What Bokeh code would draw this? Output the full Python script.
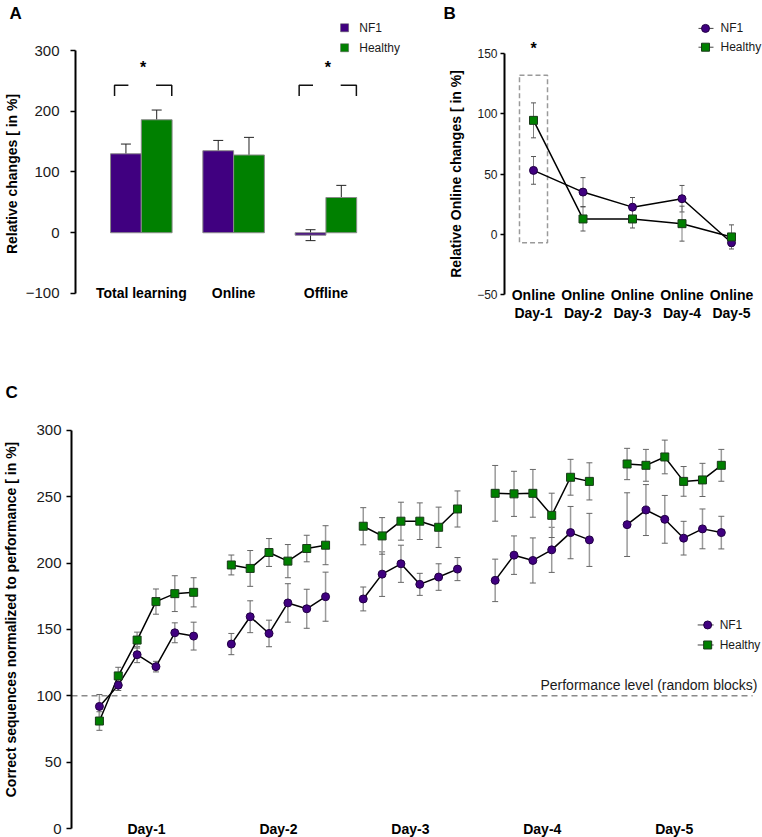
from bokeh.plotting import figure
from bokeh.layouts import column, row
from bokeh.models import Range1d, FixedTicker, Whisker, ColumnDataSource, TeeHead
from bokeh.core.properties import value
from bokeh.embed import file_html
from bokeh.resources import INLINE

NF1_COLOR = "#400080"
HEALTHY_COLOR = "#008000"
FONT = "Liberation Sans"

# ---------------- Panel A data ----------------
a_categories = ["Total learning", "Online", "Offline"]
a_nf1 = [130, 135, -4]
a_nf1_err = [16, 17, 9]
a_healthy = [186, 128, 58]
a_healthy_err = [16, 29, 20]
a_significant = [True, False, True]
a_yticks = [-100, 0, 100, 200, 300]

# ---------------- Panel B data ----------------
b_categories = ["Online Day-1", "Online Day-2", "Online Day-3", "Online Day-4", "Online Day-5"]
b_nf1 = [53, 35, 22.5, 29.5, -7]
b_nf1_err = [11.5, 12, 8, 11, 3]
b_healthy = [94.5, 12.7, 12.7, 8.8, -2.2]
b_healthy_err = [14.5, 10, 7.5, 14.5, 10]
b_yticks = [-50, 0, 50, 100, 150]

# ---------------- Panel C data ----------------
c_days = ["Day-1", "Day-2", "Day-3", "Day-4", "Day-5"]
c_blocks_per_day = 6
c_nf1 = [92, 108, 131, 122, 147.5, 145,
         139, 159.6, 147, 170, 165.6, 174.7,
         173, 191.7, 199.5, 184, 189.5, 195.5,
         187, 206, 202, 210, 223, 217.5,
         229, 240, 233, 218.8, 225.8, 223]
c_nf1_err = [9, 4, 6, 4, 7.5, 10.5,
             8, 12, 10, 14.5, 14.7, 18.5,
             9, 16.8, 14, 8.3, 10, 8.7,
             16, 14.5, 17, 17, 19.7, 20,
             24, 19.2, 18, 12.7, 15, 12.3]
c_healthy = [81, 115, 142, 171, 177, 178,
             198.6, 196, 208, 201.5, 211, 213.5,
             227.8, 220.5, 231.6, 231.6, 227, 240.8,
             252.6, 252.2, 252.6, 236, 264.7, 261.6,
             274.7, 273.7, 280, 261.6, 262.7, 273.7]
c_healthy_err = [7, 6.5, 6, 9.5, 13.5, 11,
                 7.5, 13.5, 10.5, 12.5, 10, 14.7,
                 14, 13.8, 14.3, 13.8, 15.2, 13.6,
                 21, 17, 18, 16.7, 13.5, 14,
                 11.8, 12, 12.7, 11.2, 12.5, 12]
c_yticks = [0, 50, 100, 150, 200, 250, 300]
c_random_level = 100


def style_axis(ax, label, label_standoff, tick_standoff, tick_font="15px", tick_out=5):
    ax.axis_label = label
    ax.axis_label_text_font = FONT
    ax.axis_label_text_font_style = "bold"
    ax.axis_label_text_font_size = "14px"
    ax.axis_label_text_color = "black"
    ax.axis_label_standoff = label_standoff
    ax.major_label_text_font = FONT
    ax.major_label_text_font_size = tick_font
    ax.major_label_text_color = "#1a1a1a"
    ax.major_label_standoff = tick_standoff
    ax.axis_line_width = 2
    ax.axis_line_color = "black"
    ax.major_tick_line_color = "black"
    ax.major_tick_line_width = 1.5
    ax.major_tick_in = 0
    ax.major_tick_out = tick_out
    ax.minor_tick_line_color = None


def clean(p, letter, offset):
    p.xgrid.visible = False
    p.ygrid.visible = False
    p.outline_line_color = None
    p.xaxis.visible = False
    p.background_fill_color = "white"
    p.border_fill_color = "white"
    p.title.text = letter
    p.title.align = "left"
    p.title.offset = offset
    p.title.standoff = 0
    p.title.text_font = FONT
    p.title.text_font_style = "bold"
    p.title.text_font_size = "17px"
    p.title.text_color = "black"


def txt(p, x, y, t, size="14px", bold=False, align="center", color="black"):
    p.text(x=x, y=y, text=t, text_align=align, text_baseline="middle", text_font=value(FONT),
           text_font_style="bold" if bold else "normal", text_font_size=size, text_color=color)

# ================= Panel A =================
pA = figure(width=410, height=380, x_range=Range1d(0.287, 3.808), y_range=Range1d(-152.7, 346.1),
            output_backend="svg", toolbar_location=None,
            min_border_left=69, min_border_right=10, min_border_top=22, min_border_bottom=55)
clean(pA, "A", -66)
pA.yaxis.ticker = FixedTicker(ticks=a_yticks)
pA.yaxis.bounds = (min(a_yticks), max(a_yticks))
style_axis(pA.yaxis[0], "Relative changes [ in %]", 3, 11)

xa = [i + 1 for i in range(len(a_categories))]
bw = 1 / 3
srcA = ColumnDataSource(dict(
    xn=[x - bw / 2 for x in xa], xh=[x + bw / 2 for x in xa],
    nf1=a_nf1, h=a_healthy,
    nf1_lo=[v - e for v, e in zip(a_nf1, a_nf1_err)], nf1_hi=[v + e for v, e in zip(a_nf1, a_nf1_err)],
    h_lo=[v - e for v, e in zip(a_healthy, a_healthy_err)], h_hi=[v + e for v, e in zip(a_healthy, a_healthy_err)],
))
pA.vbar(x="xn", top="nf1", bottom=0, width=bw, source=srcA, fill_color=NF1_COLOR, line_color="#8a8a8a", line_width=1)
pA.vbar(x="xh", top="h", bottom=0, width=bw, source=srcA, fill_color=HEALTHY_COLOR, line_color="#8a8a8a", line_width=1)
for base, lo, hi in (("xn", "nf1_lo", "nf1_hi"), ("xh", "h_lo", "h_hi")):
    pA.add_layout(Whisker(source=srcA, base=base, lower=lo, upper=hi, dimension="height", line_color="#222222",
                          line_width=1,
                          upper_head=TeeHead(size=10, line_color="#222222", line_width=1),
                          lower_head=TeeHead(size=10, line_color="#222222", line_width=1)))

txt(pA, xa, [min(a_yticks)] * len(xa), a_categories, bold=True)

# significance brackets
bx, by, star_x = [], [], []
for x, sig in zip(xa, a_significant):
    if sig:
        top, bot = 243, 225
        bx += [[x - 0.29, x - 0.29, x - 0.14], [x + 0.16, x + 0.33, x + 0.33]]
        by += [[bot, top, top], [top, top, bot]]
        star_x.append(x + 0.02)
pA.multi_line(xs=bx, ys=by, line_color="#111111", line_width=1.5)
txt(pA, star_x, [272] * len(star_x), ["*"] * len(star_x), size="16px", bold=True)

# legend A
pA.scatter(x=[3.202, 3.202], y=[337.4, 304.5], marker="square", size=8,
           fill_color=[NF1_COLOR, HEALTHY_COLOR], line_color="#555555", line_width=0.5)
txt(pA, [3.361, 3.361], [337.4, 304.5], ["NF1", "Healthy"], size="12px", align="left", color="#1a1a1a")

# ================= Panel B =================
pB = figure(width=352, height=380, x_range=Range1d(0.4141, 5.626), y_range=Range1d(-75.7, 175.7),
            output_backend="svg", toolbar_location=None,
            min_border_left=94, min_border_right=0, min_border_top=22, min_border_bottom=55)
clean(pB, "B", -61)
pB.yaxis.ticker = FixedTicker(ticks=b_yticks)
pB.yaxis.bounds = (min(b_yticks), max(b_yticks))
style_axis(pB.yaxis[0], "Relative Online changes [ in %]", 10, 3, tick_font="12px", tick_out=4)

xb = [i + 1 for i in range(len(b_categories))]
srcB = ColumnDataSource(dict(
    x=xb, nf1=b_nf1, h=b_healthy,
    nf1_lo=[v - e for v, e in zip(b_nf1, b_nf1_err)], nf1_hi=[v + e for v, e in zip(b_nf1, b_nf1_err)],
    h_lo=[v - e for v, e in zip(b_healthy, b_healthy_err)], h_hi=[v + e for v, e in zip(b_healthy, b_healthy_err)],
))
for lo, hi in (("nf1_lo", "nf1_hi"), ("h_lo", "h_hi")):
    pB.add_layout(Whisker(source=srcB, base="x", lower=lo, upper=hi, dimension="height", line_color="#7f7f7f",
                          line_width=1,
                          upper_head=TeeHead(size=5, line_color="#555555", line_width=1),
                          lower_head=TeeHead(size=5, line_color="#555555", line_width=1)))
# highlighted box around Day-1
pB.quad(left=[0.717], right=[1.283], bottom=[-7], top=[132], fill_color=None, line_color="#9a9a9a",
        line_dash="5 3", line_width=1.5)
txt(pB, [1.0], [154], ["*"], size="16px", bold=True)
pB.line(x="x", y="nf1", source=srcB, line_color="black", line_width=1.5)
pB.line(x="x", y="h", source=srcB, line_color="black", line_width=1.5)
pB.scatter(x="x", y="nf1", source=srcB, marker="circle", size=8, fill_color=NF1_COLOR, line_color="#220044")
pB.scatter(x="x", y="h", source=srcB, marker="square", size=8, fill_color=HEALTHY_COLOR, line_color="#1a3a1a")

top_lbl = [c.split(" ")[0] for c in b_categories]
bot_lbl = [c.split(" ")[1] for c in b_categories]
txt(pB, xb, [min(b_yticks)] * len(xb), top_lbl, bold=True)
txt(pB, xb, [min(b_yticks) - 15] * len(xb), bot_lbl, bold=True)

# legend B
leg_b_y = [170.8, 155.2]
pB.multi_line(xs=[[4.333, 4.636], [4.333, 4.636]], ys=[[leg_b_y[0]] * 2, [leg_b_y[1]] * 2], line_color="#444444", line_width=1)
pB.scatter(x=[4.475], y=[leg_b_y[0]], marker="circle", size=8, fill_color=NF1_COLOR, line_color="#220044")
pB.scatter(x=[4.475], y=[leg_b_y[1]], marker="square", size=8, fill_color=HEALTHY_COLOR, line_color="#1a3a1a")
txt(pB, [4.778, 4.778], leg_b_y, ["NF1", "Healthy"], size="12px", align="left", color="#1a1a1a")

# ================= Panel C =================
pC = figure(width=762, height=457, x_range=Range1d(-0.4815, 36.185), y_range=Range1d(-6.77, 321.8),
            output_backend="svg", toolbar_location=None,
            min_border_left=69, min_border_right=0, min_border_top=20, min_border_bottom=0)
clean(pC, "C", -66)
pC.yaxis.ticker = FixedTicker(ticks=c_yticks)
pC.yaxis.bounds = (min(c_yticks), max(c_yticks))
style_axis(pC.yaxis[0], "Correct sequences normalized to performance [ in %]", 14, 5)

nan = float("nan")
xc = []
for d in range(len(c_days)):
    for b in range(c_blocks_per_day):
        xc.append(7 * d + b + 1)


def with_gaps(vals):
    out_x, out_y = [], []
    for d in range(len(c_days)):
        s = d * c_blocks_per_day
        out_x += xc[s:s + c_blocks_per_day] + [nan]
        out_y += vals[s:s + c_blocks_per_day] + [nan]
    return out_x, out_y

srcC = ColumnDataSource(dict(
    x=xc, nf1=c_nf1, h=c_healthy,
    nf1_lo=[v - e for v, e in zip(c_nf1, c_nf1_err)], nf1_hi=[v + e for v, e in zip(c_nf1, c_nf1_err)],
    h_lo=[v - e for v, e in zip(c_healthy, c_healthy_err)], h_hi=[v + e for v, e in zip(c_healthy, c_healthy_err)],
))
pC.segment(x0=[pC.x_range.start], x1=[35.66], y0=[c_random_level], y1=[c_random_level],
           line_color="#8a8a8a", line_dash="6 4", line_width=1.5)
for lo, hi in (("nf1_lo", "nf1_hi"), ("h_lo", "h_hi")):
    pC.add_layout(Whisker(source=srcC, base="x", lower=lo, upper=hi, dimension="height", line_color="#9a9a9a",
                          line_width=1.5,
                          upper_head=TeeHead(size=6, line_color="#666666", line_width=1),
                          lower_head=TeeHead(size=6, line_color="#666666", line_width=1)))
gx, gy = with_gaps(c_nf1)
pC.line(x=gx, y=gy, line_color="black", line_width=1.5)
gx, gy = with_gaps(c_healthy)
pC.line(x=gx, y=gy, line_color="black", line_width=1.5)
pC.scatter(x="x", y="nf1", source=srcC, marker="circle", size=8, fill_color=NF1_COLOR, line_color="#220044")
pC.scatter(x="x", y="h", source=srcC, marker="square", size=8, fill_color=HEALTHY_COLOR, line_color="#1a3a1a")

day_x = [sum(xc[d * c_blocks_per_day:(d + 1) * c_blocks_per_day]) / c_blocks_per_day for d in range(len(c_days))]
txt(pC, day_x, [0] * len(day_x), c_days, bold=True)
txt(pC, [35.92], [108.3], ["Performance level (random blocks)"], align="right", color="#1a1a1a")

# legend C
leg_c_y = [153.4, 138.3]
pC.multi_line(xs=[[32.746, 33.593], [32.746, 33.593]], ys=[[leg_c_y[0]] * 2, [leg_c_y[1]] * 2], line_color="#444444", line_width=1)
pC.scatter(x=[33.275], y=[leg_c_y[0]], marker="circle", size=8, fill_color=NF1_COLOR, line_color="#220044")
pC.scatter(x=[33.275], y=[leg_c_y[1]], marker="square", size=8, fill_color=HEALTHY_COLOR, line_color="#1a3a1a")
txt(pC, [33.91, 33.91], leg_c_y, ["NF1", "Healthy"], size="12px", align="left", color="#1a1a1a")

layout = column(row(pA, pB, spacing=0), pC, spacing=0)
open("out.html", "w").write(file_html(layout, INLINE))
